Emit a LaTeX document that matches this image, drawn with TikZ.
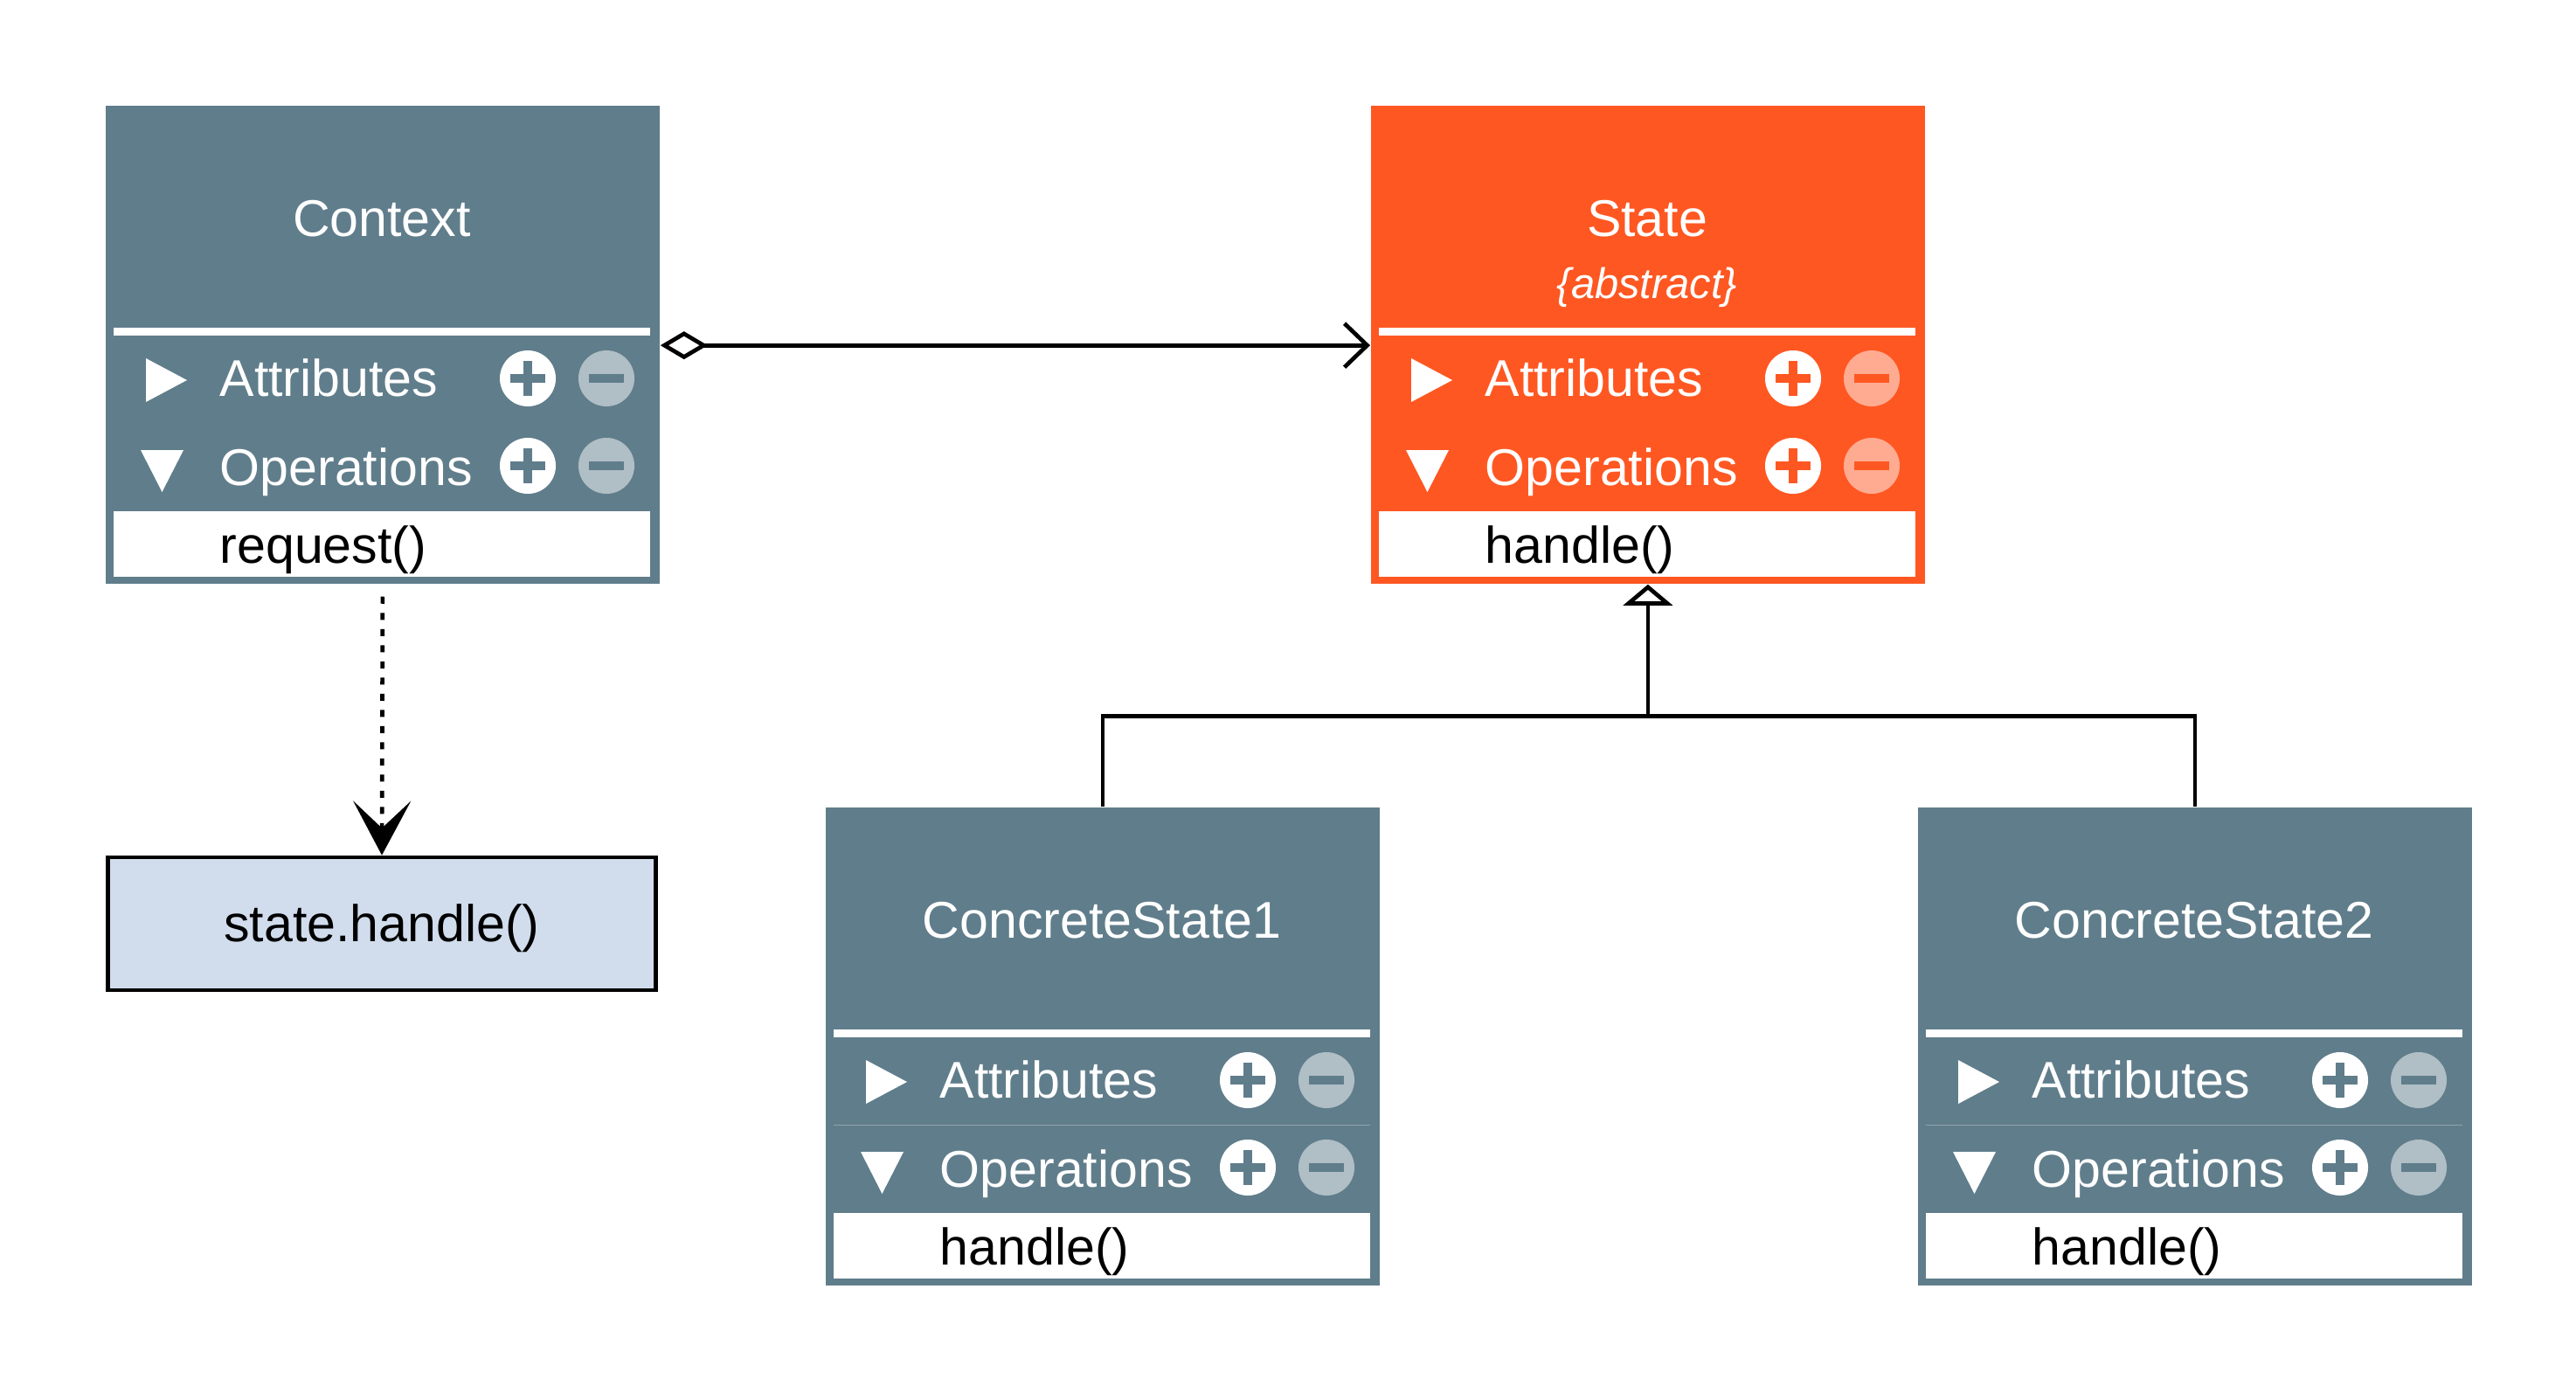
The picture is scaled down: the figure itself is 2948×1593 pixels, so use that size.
\documentclass[tikz,border=0pt]{standalone}
\usepackage{fontspec}
\setmainfont{Liberation Sans}
\usetikzlibrary{arrows.meta}
\definecolor{bgrey}{HTML}{607D8B}
\definecolor{dorange}{HTML}{FF5722}
\definecolor{bgreyl}{HTML}{B0BEC5}
\definecolor{dorangel}{HTML}{FFAB91}
\definecolor{lblue}{HTML}{D1DDED}
\tikzset{
  umltext/.style={font=\fontsize{16.8pt}{20pt}\selectfont, inner sep=0pt},
  conn/.style={line width=0.047cm, black},
}
% #1 name, #2 x, #3 y, #4 colour, #5 light colour, #6 title, #7 method, #8 divider opacity
\newcommand\umlbox[8]{%
  \node[fill=#4, minimum width=6.34cm, minimum height=5.47cm, anchor=north west, inner sep=0pt, draw=none] (#1) at (#2,#3) {};
  \begin{scope}[shift={(#2,#3)}]
    \fill[white] (10,255) rectangle (624,264);
    \draw[white, opacity=#8, line width=0.01cm] (10,364) -- (624,364);
    \fill[white] (10,465) rectangle (624,540);
    \fill[white] (47,290) -- (94,315) -- (47,340) -- cycle;
    \fill[white] (41,395) -- (90,395) -- (65.5,443) -- cycle;
    \node[umltext, text=white, anchor=base west] (#1-attr) at (131,333.5) {Attributes};
    \node[umltext, text=white, anchor=base west] (#1-ops) at (131,435) {Operations};
    \fill[white] (484,313) circle[radius=0.32cm];
    \fill[#5] (574,313) circle[radius=0.32cm];
    \fill[white] (484,413) circle[radius=0.32cm];
    \fill[#5] (574,413) circle[radius=0.32cm];
    \fill[#4] (464,308) rectangle (504,318);
    \fill[#4] (479,293) rectangle (489,333);
    \fill[#4] (464,408) rectangle (504,418);
    \fill[#4] (479,393) rectangle (489,433);
    \fill[#4] (554,308) rectangle (594,318);
    \fill[#4] (554,408) rectangle (594,418);
    #6
    \node[umltext, text=black, anchor=base west] (#1-meth) at (131,524) {#7};
  \end{scope}}
\begin{document}
\begin{tikzpicture}[x=0.01cm, y=-0.01cm]
\useasboundingbox (0,0) rectangle (2948,1593);
\umlbox{ctx}{120}{120}{bgrey}{bgreyl}{\node[umltext, text=white, anchor=base] (ctx-title) at (317,150) {Context};}{request()}{0}
\umlbox{st}{1568}{120}{dorange}{dorangel}{\node[umltext, text=white, anchor=base] (st-title) at (317,150) {State};
  \node[inner sep=0pt, text=white, font=\fontsize{13.9pt}{16pt}\selectfont\itshape, anchor=base] (st-abs) at (317,221) {\{abstract\}};}{handle()}{0}
\umlbox{cs1}{944}{923}{bgrey}{bgreyl}{\node[umltext, text=white, anchor=base] (cs1-title) at (317,150) {ConcreteState1};}{handle()}{0.3}
\umlbox{cs2}{2194}{923}{bgrey}{bgreyl}{\node[umltext, text=white, anchor=base] (cs2-title) at (317,150) {ConcreteState2};}{handle()}{0.3}

\node[draw=black, line width=0.047cm, fill=lblue, minimum width=6.26cm, minimum height=1.52cm, umltext, text height=0.5cm, text depth=0.1cm] (sh) at (437,1057) {state.handle()};

% aggregation
\coordinate (aggA) at ([yshift=-2.75cm]ctx.north east);
\coordinate (aggB) at ([yshift=-2.75cm]st.north west);
\draw[conn, {Diamond[open, fill=white, length=0.54cm, width=0.32cm]}-{Straight Barb[length=0.26cm, width=0.5cm]}] (aggA) -- (aggB);

% dependency
\coordinate (depA) at ([yshift=-0.14cm]ctx.south);
\draw[conn, dash pattern=on 0.08cm off 0.105cm, -{Stealth[length=0.62cm, width=0.66cm, inset=0.31cm]}] (depA) -- (sh.north);

% inheritance
\coordinate (jn) at ([yshift=-1.51cm]st.south);
\draw[conn] (cs1.north) |- (jn);
\draw[conn] (cs2.north) |- (jn);
\draw[conn, -{Triangle[open, fill=white, length=0.24cm, width=0.56cm]}] (jn) -- (st.south);
\end{tikzpicture}
\end{document}
